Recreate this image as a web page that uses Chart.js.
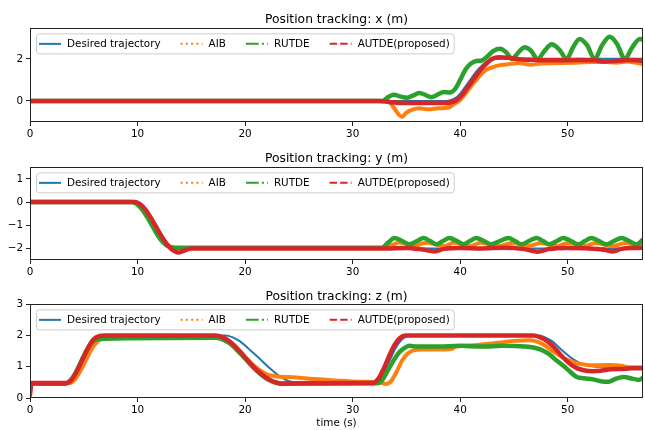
<!DOCTYPE html>
<html>
<head>
<meta charset="utf-8">
<script src="https://cdn.jsdelivr.net/npm/chart.js@4.4.1/dist/chart.umd.min.js"></script>
<style>
  body { margin: 0; background: #fff; }
  canvas { position: absolute; left: 0; }
</style>
</head>
<body>
<canvas id="chartX" width="645" height="140" style="top:0px"></canvas>
<canvas id="chartY" width="645" height="138" style="top:140px"></canvas>
<canvas id="chartZ" width="645" height="152" style="top:278px"></canvas>
<script>
// series names and tick labels
const seriesNames = ["Desired trajectory", "AIB", "RUTDE", "AUTDE(proposed)"];
const timeTicks = [0, 10, 20, 30, 40, 50];
const xTicks = [0, 2];
const yTicks = [-2, -1, 0, 1];
const zTicks = [0, 1, 2, 3];

// x position, [time (s), value (m)]
const xDesired = [[0,0],[38.7,0],[39.5,0.12],[40,0.35],[40.5,0.7],[41,1.05],[41.5,1.4],[42,1.68],[42.5,1.88],[43,1.97],[43.5,2],[57,2]];
const xAIB = [[0,0],[33.3,0],[33.8,-0.3],[34.3,-0.65],[34.6,-0.75],[35,-0.55],[35.5,-0.42],[36.2,-0.35],[37,-0.4],[38,-0.35],[39,-0.3],[39.5,-0.12],[40,0.05],[40.5,0.35],[41,0.7],[41.5,1.0],[42,1.3],[42.5,1.5],[43,1.6],[43.5,1.68],[44.5,1.75],[45.5,1.8],[46.5,1.72],[47.5,1.78],[49,1.8],[50.5,1.82],[52,1.85],[53.5,1.85],[54.5,1.82],[55.5,1.88],[56.5,1.8],[57,1.75]];
const xRUTDE = [[0,0],[32.8,0],[33.2,0.15],[33.8,0.3],[34.4,0.22],[35,0.15],[35.6,0.25],[36.2,0.38],[36.8,0.28],[37.3,0.18],[37.9,0.3],[38.5,0.42],[39,0.4],[39.5,0.55],[40,1.0],[40.5,1.5],[41,1.78],[41.5,1.9],[42,1.92],[42.5,2.1],[43.1,2.38],[43.7,2.48],[44.3,2.3],[44.8,2.0],[45.4,2.3],[46,2.55],[46.6,2.38],[47.2,1.98],[47.8,2.35],[48.5,2.7],[49.2,2.45],[49.9,2.0],[50.5,2.55],[51.1,2.95],[51.8,2.65],[52.5,2.0],[53.2,2.65],[53.9,3.05],[54.6,2.7],[55.3,2.0],[56,2.55],[56.7,2.95],[57,2.92]];
const xAUTDE = [[0,0],[32.5,0],[33.5,-0.06],[35,-0.1],[37,-0.1],[38.5,-0.1],[39.2,-0.06],[39.7,0.05],[40.2,0.3],[40.7,0.65],[41.2,1.0],[41.7,1.35],[42.2,1.65],[42.7,1.9],[43.2,2.05],[43.7,2.08],[44.5,2.05],[45.5,1.98],[47,1.95],[49,1.93],[51,1.95],[52.5,1.93],[53.5,1.87],[54.5,1.9],[55.5,1.95],[56.5,1.93],[57,1.9]];

// y position
const yDesired = [[0,0],[9.5,0],[10,-0.08],[10.5,-0.3],[11,-0.65],[11.5,-1.05],[12,-1.45],[12.5,-1.75],[13,-1.93],[13.5,-2],[57,-2]];
const yAIB = [[0,0],[9.6,0],[10.1,-0.08],[10.6,-0.3],[11.1,-0.65],[11.6,-1.05],[12.1,-1.45],[12.6,-1.75],[13.1,-1.93],[13.6,-1.98],[33,-1.98],[33.7,-1.85],[34.3,-1.74],[35,-1.8],[35.7,-1.9],[36.4,-1.8],[37,-1.75],[37.7,-1.82],[38.5,-1.9],[39.4,-1.76],[40.2,-1.82],[40.9,-1.9],[41.9,-1.76],[42.7,-1.82],[43.6,-1.9],[44.9,-1.76],[45.6,-1.82],[46.3,-1.9],[47.5,-1.77],[48.2,-1.83],[49,-1.9],[50,-1.77],[50.7,-1.82],[51.5,-1.9],[52.6,-1.77],[53.3,-1.83],[54.1,-1.9],[55.4,-1.77],[56.1,-1.83],[56.7,-1.9],[57,-1.86]];
const yRUTDE = [[0,0],[9.4,0],[9.9,-0.08],[10.4,-0.3],[10.9,-0.65],[11.4,-1.05],[11.9,-1.45],[12.4,-1.75],[12.9,-1.92],[13.5,-1.97],[32.7,-1.97],[33.3,-1.75],[33.9,-1.55],[34.6,-1.68],[35.3,-1.82],[36,-1.68],[36.6,-1.55],[37.2,-1.68],[37.8,-1.82],[38.4,-1.68],[39,-1.55],[39.7,-1.68],[40.3,-1.82],[40.9,-1.68],[41.5,-1.55],[42.2,-1.68],[42.9,-1.82],[43.7,-1.68],[44.5,-1.55],[45.1,-1.68],[45.7,-1.82],[46.4,-1.68],[47.1,-1.55],[47.7,-1.68],[48.3,-1.82],[49,-1.68],[49.6,-1.55],[50.3,-1.68],[51,-1.82],[51.6,-1.68],[52.2,-1.55],[52.9,-1.68],[53.6,-1.82],[54.3,-1.68],[55,-1.55],[55.7,-1.68],[56.4,-1.82],[57,-1.62]];
const yAUTDE = [[0,0],[9.7,0],[10.2,-0.08],[10.7,-0.3],[11.2,-0.65],[11.7,-1.05],[12.2,-1.45],[12.7,-1.8],[13.2,-2.05],[13.8,-2.18],[14.3,-2.1],[15,-2.0],[33,-2.0],[35,-1.98],[36.5,-2.05],[37.6,-2.13],[38.5,-2.02],[40,-1.98],[42,-2.0],[44,-1.97],[46,-2.03],[47.2,-2.14],[48.2,-2.03],[50,-1.98],[52,-2.0],[53.4,-2.06],[54.2,-2.13],[55,-2.02],[56.5,-1.98],[57,-1.97]];

// z position
const zDesired = [[0,0.5],[3.4,0.5],[3.9,0.62],[4.4,0.9],[4.9,1.25],[5.4,1.6],[5.9,1.85],[6.4,1.97],[6.8,2],[18.2,2],[18.8,1.95],[19.5,1.82],[20.2,1.62],[20.9,1.4],[21.6,1.18],[22.3,0.95],[23,0.75],[23.7,0.6],[24.3,0.52],[24.8,0.5],[32,0.5],[32.5,0.62],[33,0.9],[33.5,1.25],[34,1.6],[34.5,1.85],[35,1.97],[35.4,2],[47.2,2],[47.8,1.96],[48.5,1.83],[49.2,1.62],[49.9,1.4],[50.6,1.22],[51.3,1.1],[52,1.03],[52.7,1],[57,1]];
const zAIB = [[0,0.48],[3.7,0.48],[4.2,0.6],[4.7,0.88],[5.2,1.22],[5.7,1.55],[6.2,1.78],[6.7,1.9],[7.5,1.93],[17.2,1.97],[17.9,1.93],[18.6,1.8],[19.3,1.58],[20,1.32],[20.7,1.07],[21.4,0.88],[22.1,0.75],[22.8,0.7],[24,0.67],[25,0.65],[26,0.62],[27,0.6],[28,0.57],[29,0.55],[30,0.53],[31,0.52],[32.5,0.5],[33.1,0.45],[33.6,0.55],[34.1,0.85],[34.6,1.2],[35.1,1.42],[35.6,1.52],[36.5,1.55],[38,1.55],[39.2,1.57],[39.6,1.65],[41,1.68],[43,1.75],[45,1.83],[46.5,1.85],[47.2,1.8],[47.9,1.68],[48.6,1.5],[49.3,1.35],[50,1.22],[50.7,1.13],[51.4,1.08],[52,1.05],[53,1.05],[54,1.06],[55,1.03],[55.8,0.98],[57,0.98]];
const zRUTDE = [[0,0.46],[3.3,0.46],[3.8,0.58],[4.3,0.85],[4.8,1.2],[5.3,1.55],[5.8,1.8],[6.3,1.88],[7,1.9],[17.2,1.93],[17.9,1.88],[18.6,1.75],[19.3,1.52],[20,1.27],[20.7,1.0],[21.4,0.78],[22.1,0.6],[22.8,0.5],[23.5,0.46],[32.3,0.47],[32.8,0.6],[33.3,0.9],[33.8,1.2],[34.3,1.45],[34.8,1.6],[35.3,1.67],[36,1.65],[38,1.65],[40,1.67],[42,1.65],[44,1.67],[46,1.65],[46.8,1.62],[47.5,1.55],[48.2,1.42],[48.9,1.22],[49.6,1.03],[50.2,0.85],[50.8,0.68],[51.5,0.63],[52.3,0.6],[53.2,0.53],[53.8,0.52],[54.5,0.62],[55.2,0.67],[56,0.62],[56.6,0.58],[57,0.65]];
const zAUTDE = [[0,0.1],[0.15,0.48],[3.4,0.48],[3.9,0.6],[4.4,0.88],[4.9,1.25],[5.4,1.6],[5.9,1.87],[6.4,1.98],[7,2.0],[17.2,2.0],[17.9,1.95],[18.6,1.8],[19.3,1.57],[20,1.3],[20.7,1.03],[21.4,0.8],[22.1,0.62],[22.8,0.5],[23.3,0.46],[24,0.47],[31.9,0.48],[32.4,0.62],[32.9,0.95],[33.4,1.35],[33.9,1.7],[34.4,1.92],[34.9,2.0],[46.8,2.0],[47.4,1.95],[48.1,1.82],[48.8,1.6],[49.5,1.32],[50.2,1.1],[50.9,0.95],[51.6,0.88],[52.3,0.86],[53,0.87],[54,0.92],[55,0.93],[56,0.95],[57,0.95]];

const colors = ["#1f77b4", "#ff7f0e", "#2ca02c", "#d62728"];
const legendDash = [[], [2, 3.3], [12.8, 3.2, 2, 3.2], [7.4, 3.2]];
const lineWidths = [2, 4, 4.5, 4.5];
const FONT = '"DejaVu Sans", sans-serif';

// frame round the plot area + legend inside, matplotlib style
const framePlugin = {
  id: "frameAndLegend",
  afterDatasetsDraw(chart) {
    const ctx = chart.ctx;
    const a = chart.chartArea;
    ctx.save();
    ctx.strokeStyle = "#222";
    ctx.lineWidth = 1;
    ctx.strokeRect(Math.round(a.left) + 0.5, Math.round(a.top) + 0.5,
      Math.round(a.right - a.left) - 1, Math.round(a.bottom - a.top) - 1);

    ctx.font = "10.4px " + FONT;
    const widths = seriesNames.map(n => ctx.measureText(n).width);
    const handle = 22, gap = 6, colSpace = 20;
    const bx = a.left + 6, by = a.top + 5, bh = 20;
    let bw = 7 + colSpace * (seriesNames.length - 1);
    widths.forEach(w => { bw += handle + gap + w; });
    ctx.fillStyle = "rgba(255,255,255,0.85)";
    ctx.strokeStyle = "#cccccc";
    ctx.beginPath();
    ctx.roundRect(bx + 0.5, by + 0.5, bw, bh, 3);
    ctx.fill();
    ctx.stroke();

    let x = bx + 3;
    const cy = by + bh / 2 + 0.5;
    seriesNames.forEach((name, i) => {
      ctx.beginPath();
      ctx.setLineDash(legendDash[i]);
      ctx.strokeStyle = colors[i];
      ctx.lineWidth = 2;
      ctx.moveTo(x, cy);
      ctx.lineTo(x + handle, cy);
      ctx.stroke();
      ctx.setLineDash([]);
      ctx.fillStyle = "#000";
      ctx.textBaseline = "middle";
      ctx.textAlign = "left";
      ctx.fillText(name, x + handle + gap, cy);
      x += handle + gap + widths[i] + colSpace;
    });
    ctx.restore();
  }
};

function minus(v) {
  return String(v).replace("-", "\u2212");
}

function makeChart(id, title, series, yMin, yMax, yTickVals, titlePad, xHeight, showXTitle) {
  const datasets = series.map((pairs, i) => ({
    label: seriesNames[i],
    data: pairs.map(p => ({ x: p[0], y: p[1] })),
    borderColor: colors[i],
    borderWidth: lineWidths[i],
    borderJoinStyle: "round",
    borderCapStyle: "round",
    pointRadius: 0,
    cubicInterpolationMode: "monotone",
    order: 3 - i,
  }));

  return new Chart(document.getElementById(id), {
    type: "line",
    data: { datasets: datasets },
    plugins: [framePlugin],
    options: {
      responsive: false,
      animation: false,
      events: [],
      layout: { padding: { left: 0, right: 2, top: 0, bottom: 0 } },
      plugins: {
        legend: { display: false },
        tooltip: { enabled: false },
        title: {
          display: true,
          fullSize: false,
          text: title,
          color: "#000",
          font: { family: FONT, size: 12.3, weight: "normal" },
          padding: titlePad,
        },
      },
      scales: {
        x: {
          type: "linear",
          min: 0,
          max: 57,
          afterBuildTicks: s => { s.ticks = timeTicks.map(v => ({ value: v })); },
          afterFit: s => { s.height = xHeight; },
          border: { display: false },
          grid: { drawOnChartArea: false, drawTicks: true, tickLength: 4, tickColor: "#222" },
          ticks: { color: "#000", font: { family: FONT, size: 10.4 }, padding: 2, maxRotation: 0, autoSkip: false },
          title: {
            display: showXTitle,
            text: "time (s)",
            color: "#000",
            font: { family: FONT, size: 10.4 },
            padding: { top: 0, bottom: 0 },
          },
        },
        y: {
          type: "linear",
          min: yMin,
          max: yMax,
          afterBuildTicks: s => { s.ticks = yTickVals.map(v => ({ value: v })); },
          afterFit: s => { s.width = 30; },
          border: { display: false },
          grid: { drawOnChartArea: false, drawTicks: true, tickLength: 4, tickColor: "#222" },
          ticks: { color: "#000", font: { family: FONT, size: 10.4 }, padding: 3, callback: minus, autoSkip: false },
        },
      },
    },
  });
}

makeChart("chartX", "Position tracking: x (m)", [xDesired, xAIB, xRUTDE, xAUTDE],
  -1, 3.45, xTicks, { top: 12, bottom: 1.6 }, 18, false);
makeChart("chartY", "Position tracking: y (m)", [yDesired, yAIB, yRUTDE, yAUTDE],
  -2.5, 1.5, yTicks, { top: 11, bottom: 1.6 }, 18, false);
makeChart("chartZ", "Position tracking: z (m)", [zDesired, zAIB, zRUTDE, zAUTDE],
  0, 3, zTicks, { top: 11, bottom: 0.6 }, 32, true);
</script>
</body>
</html>
